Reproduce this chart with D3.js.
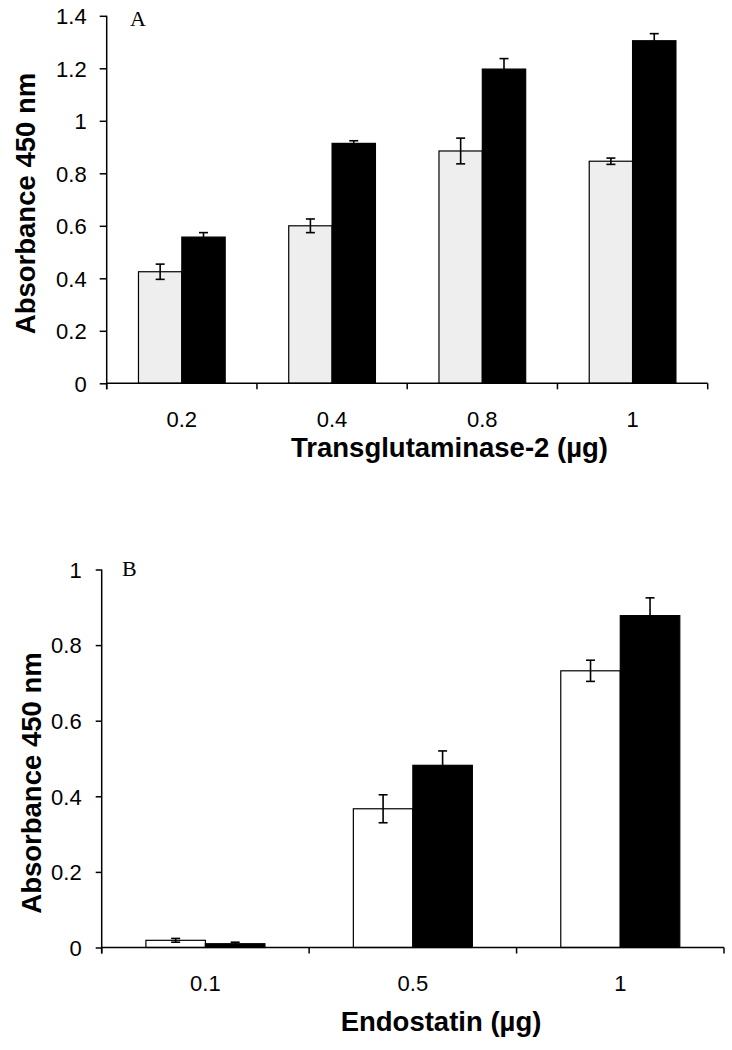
<!DOCTYPE html>
<html>
<head>
<meta charset="utf-8">
<script src="https://cdn.jsdelivr.net/npm/d3@7"></script>
<style>
  html, body { margin: 0; padding: 0; background: #fff; }
  svg { display: block; }
  text { font-family: "Liberation Sans", Arial, sans-serif; fill: #000; }
</style>
</head>
<body>
<svg id="chart" width="732" height="1050"></svg>
<script>
// ---- Panel A data ----
const catsA = ["0.2", "0.4", "0.8", "1"];
const lightA = [0.425, 0.600, 0.885, 0.846];
const lightErrA = [0.029, 0.026, 0.049, 0.012];
const darkA = [0.557, 0.914, 1.197, 1.305];
const darkErrA = [0.017, 0.010, 0.040, 0.027];
const yTicksA = [0, 0.2, 0.4, 0.6, 0.8, 1, 1.2, 1.4];

// ---- Panel B data ----
const catsB = ["0.1", "0.5", "1"];
const lightB = [0.019, 0.367, 0.732];
const lightErrB = [0.005, 0.037, 0.028];
const darkB = [0.010, 0.482, 0.878];
const darkErrB = [0.004, 0.038, 0.047];
const yTicksB = [0, 0.2, 0.4, 0.6, 0.8, 1];

const svg = d3.select("#chart");

function panel(opts) {
  const g = svg.append("g");
  const y = d3.scaleLinear().domain([0, opts.yMax]).range([opts.y0, opts.y1]);
  const x0 = d3.scaleBand().domain(opts.cats).range([opts.xL, opts.xR]).padding(0);
  const x1 = d3.scaleBand().domain(["light", "dark"]).range([0, x0.bandwidth()])
    .paddingInner(0).paddingOuter(opts.outerPad);

  // bars
  const rows = opts.cats.map((c, i) => ({
    cat: c,
    vals: [
      { key: "light", v: opts.light[i], e: opts.lightErr[i] },
      { key: "dark", v: opts.dark[i], e: opts.darkErr[i] }
    ]
  }));
  const grp = g.selectAll("g.grp").data(rows).join("g")
    .attr("transform", d => `translate(${x0(d.cat)},0)`);
  grp.selectAll("rect").data(d => d.vals).join("rect")
    .attr("x", d => x1(d.key))
    .attr("y", d => y(d.v))
    .attr("width", x1.bandwidth())
    .attr("height", d => y(0) - y(d.v))
    .attr("fill", d => d.key === "dark" ? "#000" : opts.lightFill)
    .attr("stroke", "#000")
    .attr("stroke-width", 1.2);
  // error bars
  const cap = 4.5;
  grp.selectAll("g.err").data(d => d.vals).join("g").attr("class", "err")
    .each(function(d) {
      const cx = x1(d.key) + x1.bandwidth() / 2;
      const s = d3.select(this);
      s.append("line").attr("x1", cx).attr("x2", cx)
        .attr("y1", y(d.v + d.e)).attr("y2", y(d.v - d.e));
      s.append("line").attr("x1", cx - cap).attr("x2", cx + cap)
        .attr("y1", y(d.v + d.e)).attr("y2", y(d.v + d.e));
      s.append("line").attr("x1", cx - cap).attr("x2", cx + cap)
        .attr("y1", y(d.v - d.e)).attr("y2", y(d.v - d.e));
    })
    .selectAll("line").attr("stroke", "#000").attr("stroke-width", 1.6);

  // y axis
  const yAxis = d3.axisLeft(y).tickValues(opts.yTicks)
    .tickFormat(d3.format("~g")).tickSize(opts.tickLen).tickPadding(opts.yPad);
  const ya = g.append("g").attr("transform", `translate(${opts.xL},0)`).call(yAxis);
  ya.select(".domain").remove();
  ya.append("line").attr("x1", 0).attr("x2", 0)
    .attr("y1", y(opts.yMax)).attr("y2", y(0) + 6).attr("stroke", "#000").attr("stroke-width", 1.5);
  ya.selectAll(".tick line").attr("stroke", "#000").attr("stroke-width", 1.5);
  ya.selectAll(".tick text").attr("font-size", opts.tickFont).attr("dy", "0.35em")
    .attr("font-family", "'Liberation Sans', Arial, sans-serif");

  // x axis: baseline + boundary ticks
  const xa = g.append("g");
  xa.append("line").attr("x1", opts.xL).attr("x2", opts.xR)
    .attr("y1", y(0)).attr("y2", y(0)).attr("stroke", "#000").attr("stroke-width", 1.5);
  const bounds = opts.cats.map(c => x0(c) + x0.bandwidth()).concat([opts.xL]);
  xa.selectAll("line.bt").data(bounds).join("line").attr("class", "bt")
    .attr("x1", d => d).attr("x2", d => d)
    .attr("y1", y(0)).attr("y2", y(0) + 6).attr("stroke", "#000").attr("stroke-width", 1.5);
  xa.selectAll("text.xl").data(opts.cats).join("text").attr("class", "xl")
    .attr("x", d => x0(d) + x0.bandwidth() / 2)
    .attr("y", opts.xLabelY)
    .attr("text-anchor", "middle")
    .attr("font-size", opts.tickFont)
    .text(d => d);

  // titles
  g.append("text")
    .attr("transform", `translate(${opts.yTitleX},${opts.yTitleY}) rotate(-90)`)
    .attr("text-anchor", "middle")
    .attr("font-size", opts.titleFont).attr("font-weight", "bold")
    .text("Absorbance 450 nm");
  g.append("text")
    .attr("x", opts.xTitleX).attr("y", opts.xTitleY)
    .attr("text-anchor", "middle")
    .attr("font-size", opts.titleFont).attr("font-weight", "bold")
    .text(opts.xTitle);
  g.append("text")
    .attr("x", opts.letterX).attr("y", opts.letterY)
    .style("font-family", "'Liberation Serif', 'Times New Roman', serif")
    .attr("font-size", 22)
    .text(opts.letter);
}

panel({
  cats: catsA, light: lightA, lightErr: lightErrA, dark: darkA, darkErr: darkErrA,
  yTicks: yTicksA, yMax: 1.4, y0: 383.3, y1: 15.8, xL: 106.7, xR: 707.7,
  outerPad: 0.733, lightFill: "#eeeeee", tickLen: 7, yPad: 13, tickFont: 22,
  xLabelY: 427, yTitleX: 35, yTitleY: 203.5, xTitle: "Transglutaminase-2 (µg)",
  xTitleX: 449.5, xTitleY: 457, titleFont: 27.5, letter: "A", letterX: 130, letterY: 26
});

panel({
  cats: catsB, light: lightB, lightErr: lightErrB, dark: darkB, darkErr: darkErrB,
  yTicks: yTicksB, yMax: 1, y0: 947.5, y1: 569.5, xL: 101.7, xR: 724,
  outerPad: 0.743, lightFill: "#ffffff", tickLen: 6, yPad: 14, tickFont: 22,
  xLabelY: 991, yTitleX: 41, yTitleY: 783, xTitle: "Endostatin (µg)",
  xTitleX: 441, xTitleY: 1031, titleFont: 27.5, letter: "B", letterX: 122, letterY: 576
});
</script>
</body>
</html>
